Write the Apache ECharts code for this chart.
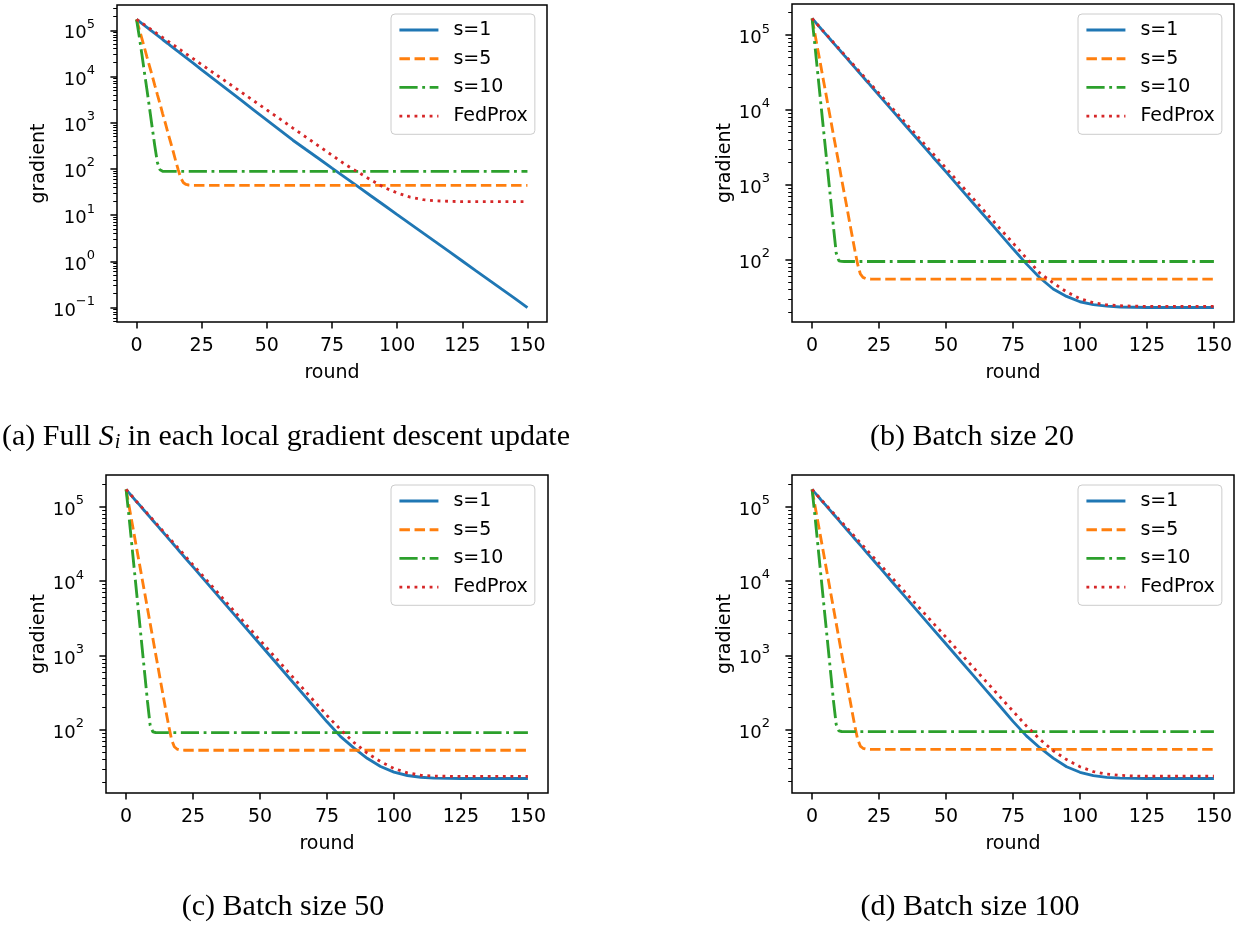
<!DOCTYPE html>
<html>
<head>
<meta charset="utf-8">
<script src="https://cdn.jsdelivr.net/npm/echarts@6/dist/echarts.min.js"></script>
<style>
  html, body { margin: 0; padding: 0; background: #fff; }
  #main { width: 1245px; height: 925px; }
</style>
</head>
<body>
<div id="main"></div>
<script>
// rounds at which the curves were read (every round early on, then every 5)
const rounds = [0, 1, 2, 3, 4, 5, 6, 7, 8, 9, 10, 11, 12, 13, 14, 15, 16, 17, 18, 19, 20, 21, 22,
  25, 30, 35, 40, 45, 50, 55, 60, 65, 70, 75, 80, 85, 90, 95, 100, 105, 110, 115, 120, 125, 130, 135, 140, 145, 150];

const xTicks = [0, 25, 50, 75, 100, 125, 150];
const seriesNames = ['s=1', 's=5', 's=10', 'FedProx'];

// (a) full S_i
const fullS1 = [172000, 156000, 141000, 128000, 116000, 104000, 94400, 85500, 77300, 70000, 63200, 57200, 51800, 46800, 42400, 38300, 34600, 31300, 28300, 25600, 23200, 20900, 19000,
  14000, 8490, 5140, 3110, 1880, 1140, 690, 418, 263, 166, 104, 65.6, 41.3, 26.0, 16.4, 10.3, 6.49, 4.08, 2.57, 1.62, 1.02, 0.641, 0.404, 0.254, 0.160, 0.100];
const fullS5 = [172000, 107000, 67600, 42700, 26300, 16600, 10500, 6460, 4070, 2570, 1580, 1000, 617, 389, 245, 151, 95.5, 63.1, 50.1, 46.2, 44.9, 44.4, 44.2,
  44.2, 44.2, 44.2, 44.2, 44.2, 44.2, 44.2, 44.2, 44.2, 44.2, 44.2, 44.2, 44.2, 44.2, 44.2, 44.2, 44.2, 44.2, 44.2, 44.2, 44.2, 44.2, 44.2, 44.2, 44.2, 44.2];
const fullS10 = [172000, 75900, 31600, 12600, 5130, 2040, 794, 316, 138, 95.5, 89.1, 88.3, 88.3, 88.3, 88.3, 88.3, 88.3, 88.3, 88.3, 88.3, 88.3, 88.3, 88.3,
  88.3, 88.3, 88.3, 88.3, 88.3, 88.3, 88.3, 88.3, 88.3, 88.3, 88.3, 88.3, 88.3, 88.3, 88.3, 88.3, 88.3, 88.3, 88.3, 88.3, 88.3, 88.3, 88.3, 88.3, 88.3, 88.3];
const fullFedProx = [172000, 158000, 144000, 132000, 120000, 110000, 100000, 91800, 83800, 76600, 70000, 64000, 58400, 53400, 48800, 44600, 40700, 37200, 34000, 31000, 28400, 25900, 23700,
  18100, 11500, 7330, 4670, 2970, 1890, 1210, 767, 489, 311, 198, 126, 85.1, 57.5, 39.8, 30.2, 24.5, 21.6, 20.4, 19.9, 19.6, 19.6, 19.6, 19.6, 19.6, 19.6];

// (b) batch size 20
const b20S1 = [167000, 152000, 138000, 126000, 114000, 104000, 94600, 86100, 78300, 71300, 64900, 59000, 53700, 48900, 44500, 40500, 36800, 33500, 30500, 27700, 25200, 23000, 20900,
  15700, 9820, 6120, 3820, 2380, 1490, 927, 578, 361, 225, 140, 88.1, 57.5, 40.7, 32.4, 27.5, 25.1, 24.0, 23.4, 23.2, 23.0, 23.0, 23.0, 23.0, 23.0, 23.0];
const b20S5 = [167000, 107000, 67600, 43700, 27500, 17800, 11200, 7240, 4570, 2950, 1910, 1200, 776, 501, 316, 204, 132, 87.1, 64.6, 58.2, 56.2, 55.5, 55.2,
  55.2, 55.2, 55.2, 55.2, 55.2, 55.2, 55.2, 55.2, 55.2, 55.2, 55.2, 55.2, 55.2, 55.2, 55.2, 55.2, 55.2, 55.2, 55.2, 55.2, 55.2, 55.2, 55.2, 55.2, 55.2, 55.2];
const b20S10 = [167000, 75900, 33900, 15100, 6760, 3020, 1350, 603, 269, 123, 96.6, 95.1, 94.8, 94.8, 94.8, 94.8, 94.8, 94.8, 94.8, 94.8, 94.8, 94.8, 94.8,
  94.8, 94.8, 94.8, 94.8, 94.8, 94.8, 94.8, 94.8, 94.8, 94.8, 94.8, 94.8, 94.8, 94.8, 94.8, 94.8, 94.8, 94.8, 94.8, 94.8, 94.8, 94.8, 94.8, 94.8, 94.8, 94.8];
const b20FedProx = [167000, 152000, 139000, 126000, 115000, 105000, 95900, 87500, 79800, 72800, 66400, 60500, 55200, 50400, 45900, 41900, 38200, 34800, 31800, 29000, 26400, 24100, 22000,
  16700, 10500, 6640, 4190, 2640, 1670, 1050, 664, 419, 264, 167, 105, 66.4, 49.0, 37.2, 30.2, 26.6, 25.0, 24.3, 24.0, 23.8, 23.8, 23.8, 23.8, 23.8, 23.8];

// (c) batch size 50
const b50S1 = [171000, 155000, 141000, 128000, 116000, 106000, 95900, 87300, 79300, 72100, 65500, 59400, 54100, 49100, 44700, 40600, 36800, 33500, 30400, 27700, 25100, 22800, 20700,
  15600, 9640, 5970, 3700, 2290, 1420, 879, 545, 337, 209, 129, 82.2, 57.5, 41.7, 32.4, 27.2, 24.5, 23.2, 22.6, 22.4, 22.3, 22.3, 22.3, 22.3, 22.3, 22.3];
const b50S5 = [171000, 107000, 67600, 42700, 26900, 17000, 10700, 6760, 4270, 2690, 1700, 1070, 676, 427, 269, 170, 110, 74.1, 59.6, 55.6, 54.3, 53.8, 53.6,
  53.6, 53.6, 53.6, 53.6, 53.6, 53.6, 53.6, 53.6, 53.6, 53.6, 53.6, 53.6, 53.6, 53.6, 53.6, 53.6, 53.6, 53.6, 53.6, 53.6, 53.6, 53.6, 53.6, 53.6, 53.6, 53.6];
const b50S10 = [171000, 79400, 34700, 15100, 6610, 2880, 1260, 550, 240, 115, 94.4, 92.7, 92.5, 92.5, 92.5, 92.5, 92.5, 92.5, 92.5, 92.5, 92.5, 92.5, 92.5,
  92.5, 92.5, 92.5, 92.5, 92.5, 92.5, 92.5, 92.5, 92.5, 92.5, 92.5, 92.5, 92.5, 92.5, 92.5, 92.5, 92.5, 92.5, 92.5, 92.5, 92.5, 92.5, 92.5, 92.5, 92.5, 92.5];
const b50FedProx = [171000, 156000, 142000, 129000, 117000, 107000, 97500, 88900, 80900, 73800, 67100, 61200, 55700, 50800, 46200, 42200, 38400, 35000, 31800, 29000, 26400, 24100, 21900,
  16600, 10400, 6530, 4090, 2570, 1610, 1010, 634, 398, 249, 157, 102, 68.4, 49.0, 37.6, 30.5, 26.6, 24.7, 24.1, 23.9, 23.8, 23.8, 23.8, 23.8, 23.8, 23.8];

// (d) batch size 100
const b100S1 = [171000, 155000, 141000, 128000, 116000, 106000, 95900, 87300, 79300, 72100, 65500, 59400, 54100, 49100, 44700, 40600, 36800, 33500, 30400, 27700, 25100, 22800, 20700,
  15600, 9640, 5970, 3700, 2290, 1420, 879, 545, 337, 209, 129, 82.2, 56.9, 41.2, 31.6, 26.6, 24.0, 22.7, 22.2, 22.0, 21.9, 21.9, 21.9, 21.9, 21.9, 21.9];
const b100S5 = [171000, 107000, 67600, 42700, 26900, 17000, 10700, 6760, 4270, 2690, 1700, 1070, 676, 427, 269, 170, 110, 74.1, 60.0, 56.0, 54.8, 54.3, 54.1,
  54.1, 54.1, 54.1, 54.1, 54.1, 54.1, 54.1, 54.1, 54.1, 54.1, 54.1, 54.1, 54.1, 54.1, 54.1, 54.1, 54.1, 54.1, 54.1, 54.1, 54.1, 54.1, 54.1, 54.1, 54.1, 54.1];
const b100S10 = [171000, 79400, 34700, 15100, 6610, 2880, 1260, 550, 240, 117, 96.0, 94.2, 94.0, 94.0, 94.0, 94.0, 94.0, 94.0, 94.0, 94.0, 94.0, 94.0, 94.0,
  94.0, 94.0, 94.0, 94.0, 94.0, 94.0, 94.0, 94.0, 94.0, 94.0, 94.0, 94.0, 94.0, 94.0, 94.0, 94.0, 94.0, 94.0, 94.0, 94.0, 94.0, 94.0, 94.0, 94.0, 94.0, 94.0];
const b100FedProx = [171000, 156000, 142000, 130000, 118000, 108000, 98400, 89700, 82000, 74800, 68200, 62200, 56800, 51900, 47300, 43200, 39400, 35900, 32800, 29900, 27300, 24900, 22700,
  17300, 10900, 6900, 4370, 2760, 1750, 1100, 698, 442, 279, 177, 112, 74.1, 51.9, 39.4, 31.6, 27.2, 25.1, 24.2, 23.7, 23.5, 23.5, 23.5, 23.5, 23.5, 23.5];

const captions = [
  '(a) Full {cal|S}{sub|i} in each local gradient descent update',
  '(b) Batch size 20',
  '(c) Batch size 50',
  '(d) Batch size 100'
];

// ---- styling / layout ----
const colors = ['#1f77b4', '#ff7f0e', '#2ca02c', '#d62728'];
const dashes = ['solid', [10.5, 4.6], [18.2, 4.6, 2.85, 4.6], [2.85, 4.7]];
const tickFont = 'DejaVu Sans';

const panels = [
  { data: [fullS1, fullS5, fullS10, fullFedProx], grid: { left: 117, top: 5, width: 430, height: 317 },
    legend: { left: 391, top: 14 }, nameGapY: 68, caption: { x: 286, y: 419 } },
  { data: [b20S1, b20S5, b20S10, b20FedProx], grid: { left: 792, top: 4, width: 442, height: 318 },
    legend: { left: 1078, top: 14 }, nameGapY: 56, caption: { x: 972, y: 419 } },
  { data: [b50S1, b50S5, b50S10, b50FedProx], grid: { left: 106, top: 475, width: 442, height: 318 },
    legend: { left: 391, top: 485 }, nameGapY: 56, caption: { x: 283, y: 889 } },
  { data: [b100S1, b100S5, b100S10, b100FedProx], grid: { left: 792, top: 475, width: 442, height: 318 },
    legend: { left: 1078, top: 485 }, nameGapY: 56, caption: { x: 970, y: 889 } }
];

function pow10Label(v) {
  return '{b|10}{s|' + String(Math.round(v)).replace('-', '\u2212') + '}';
}

// matplotlib-like autoscale on log10 values (5% margin)
function logRange(arrays) {
  let lo = Infinity, hi = -Infinity;
  arrays.forEach(a => a.forEach(v => {
    const l = Math.log10(v);
    lo = Math.min(lo, l);
    hi = Math.max(hi, l);
  }));
  const pad = (hi - lo) * 0.05;
  return [lo - pad, hi + pad];
}

const option = {
  animation: false,
  backgroundColor: '#fff',
  grid: [], xAxis: [], yAxis: [], series: [], legend: [], title: []
};

panels.forEach((p, i) => {
  const [lo, hi] = logRange(p.data);
  const majors = [];
  for (let k = Math.ceil(lo); k <= Math.floor(hi); k++) majors.push(k);
  const minors = [];
  for (let k = Math.floor(lo); k <= Math.ceil(hi); k++) {
    for (let m = 2; m <= 9; m++) {
      const v = k + Math.log10(m);
      if (v >= lo && v <= hi) minors.push(v);
    }
  }

  option.grid.push(Object.assign({
    show: true, borderColor: '#000', borderWidth: 1.5, backgroundColor: 'transparent', containLabel: false
  }, p.grid));

  option.xAxis.push({
    gridIndex: i, type: 'value', min: -7.5, max: 157.5, position: 'bottom',
    name: 'round', nameLocation: 'middle', nameGap: 42,
    nameTextStyle: { fontFamily: tickFont, fontSize: 19, color: '#000' },
    axisLine: { show: false, onZero: false },
    splitLine: { show: false },
    axisTick: { show: true, customValues: xTicks, length: 6.6, lineStyle: { color: '#000', width: 1.5 } },
    axisLabel: { customValues: xTicks, margin: 15, fontFamily: tickFont, fontSize: 19, color: '#000' }
  });

  // major ticks + labels
  option.yAxis.push({
    gridIndex: i, type: 'value', position: 'left', min: lo, max: hi,
    name: 'gradient', nameLocation: 'middle', nameGap: p.nameGapY, nameRotate: 90,
    nameTextStyle: { fontFamily: tickFont, fontSize: 19, color: '#000' },
    axisLine: { show: false, onZero: false },
    splitLine: { show: false },
    axisTick: { show: true, customValues: majors, length: 6.6, lineStyle: { color: '#000', width: 1.5 } },
    axisLabel: {
      customValues: majors, margin: 22, color: '#000', formatter: pow10Label,
      rich: {
        b: { fontFamily: tickFont, fontSize: 18, lineHeight: 25, verticalAlign: 'bottom', color: '#000' },
        s: { fontFamily: tickFont, fontSize: 13, lineHeight: 14, verticalAlign: 'top', color: '#000' }
      }
    }
  });
  // minor ticks of the log axis
  option.yAxis.push({
    gridIndex: i, type: 'value', position: 'left', min: lo, max: hi,
    axisLine: { show: false, onZero: false },
    splitLine: { show: false },
    axisTick: { show: true, customValues: minors, length: 3.8, lineStyle: { color: '#000', width: 1 } },
    axisLabel: { show: false }
  });

  p.data.forEach((vals, s) => {
    option.series.push({
      name: seriesNames[s], type: 'line',
      xAxisIndex: i, yAxisIndex: i * 2,
      data: rounds.map((r, j) => [r, Math.log10(vals[j])]),
      symbol: 'none', showSymbol: false,
      color: colors[s],
      lineStyle: { color: colors[s], width: 2.85, type: dashes[s], cap: 'butt' },
      emphasis: { disabled: true },
      clip: true
    });
  });

  option.legend.push({
    data: seriesNames, orient: 'vertical',
    left: p.legend.left, top: p.legend.top,
    padding: [6.5, 7, 8.7, 7],
    itemWidth: 39, itemHeight: 19, itemGap: 9.7,
    backgroundColor: 'rgba(255,255,255,0.8)',
    borderColor: '#cccccc', borderWidth: 1, borderRadius: 4,
    selectedMode: false,
    itemStyle: { opacity: 0 },
    lineStyle: { width: 2.85 },
    textStyle: { fontFamily: tickFont, fontSize: 19, color: '#000', lineHeight: 19, padding: [0, 0, 0, 10] }
  });

  option.title.push({
    text: captions[i],
    left: p.caption.x, top: p.caption.y, textAlign: 'center', padding: 0,
    textStyle: {
      fontFamily: 'Liberation Serif', fontSize: 30, fontWeight: 'normal', color: '#000', lineHeight: 36,
      rich: {
        cal: { fontFamily: 'Liberation Serif', fontStyle: 'italic', fontSize: 30, lineHeight: 36 },
        sub: { fontFamily: 'Liberation Serif', fontStyle: 'italic', fontSize: 20, lineHeight: 20, verticalAlign: 'bottom', padding: [0, 0, 2, 1] }
      }
    }
  });
});

const chart = echarts.init(document.getElementById('main'), null, { renderer: 'canvas' });
chart.setOption(option);
</script>
</body>
</html>
